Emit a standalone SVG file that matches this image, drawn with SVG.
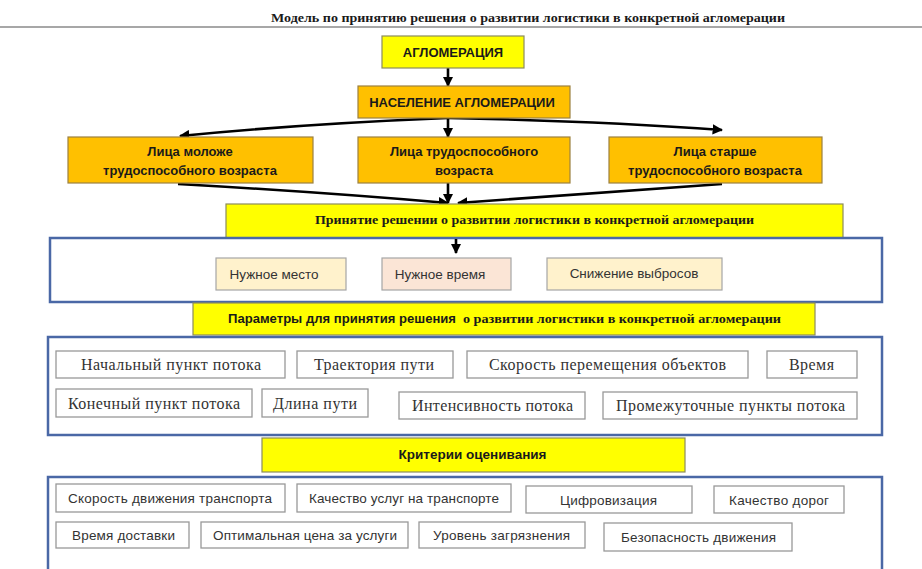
<svg xmlns="http://www.w3.org/2000/svg" width="922" height="569" viewBox="0 0 922 569">
<style>
.bg{fill:#ffffff}
.yel{fill:#ffff00;stroke:#8c8c5c;stroke-width:1.2}
.org{fill:#ffc000;stroke:#9c8040;stroke-width:1.2}
.blue{fill:#ffffff;stroke:#4a68a6;stroke-width:2.5}
.cream{fill:#fff2cc;stroke:#a6a6a6;stroke-width:1.2}
.pink{fill:#fbe5d6;stroke:#a6a6a6;stroke-width:1.2}
.wbox{fill:#ffffff;stroke:#999999;stroke-width:1.3}
.hs{font-family:"Liberation Sans",Arial,sans-serif;font-weight:bold;fill:#1a1a1a;text-anchor:middle}
.hserif{font-family:"Liberation Serif","Times New Roman",serif;font-weight:bold;fill:#1a1a1a}
.ser{font-family:"Liberation Serif","Times New Roman",serif;font-size:16px;fill:#333333;text-anchor:middle}
.sans{font-family:"Liberation Sans",Arial,sans-serif;font-size:13.5px;fill:#333333;text-anchor:middle}
.conn{fill:none;stroke:#000000;stroke-width:2.6}
</style>
<defs>
<marker id="ah" viewBox="0 0 10 10" refX="9" refY="5" markerWidth="4" markerHeight="4" orient="auto" markerUnits="strokeWidth">
<path d="M0,0 L10,5 L0,10 z" fill="#000000"/>
</marker>
</defs>
<rect class="bg" x="0" y="0" width="922" height="569"/>

<g id="title">
<text class="hserif" x="271" y="22" font-size="13" textLength="514" lengthAdjust="spacingAndGlyphs">Модель по принятию  решения о развитии логистики в конкретной агломерации</text>
<line x1="0" y1="27" x2="922" y2="27" stroke="#8a8a8a" stroke-width="1.3"/>
</g>

<g id="connectors">
<line class="conn" x1="448" y1="68" x2="448" y2="86" marker-end="url(#ah)"/>
<path class="conn" d="M448,118 Q300,124 180,136" marker-end="url(#ah)"/>
<line class="conn" x1="448" y1="118" x2="448" y2="137" marker-end="url(#ah)"/>
<path class="conn" d="M448,118 Q600,121 722,130" marker-end="url(#ah)"/>
<path class="conn" d="M178,184 Q320,192 448,203" marker-end="url(#ah)"/>
<line class="conn" x1="448" y1="183" x2="448" y2="203" marker-end="url(#ah)"/>
<path class="conn" d="M722,184 Q590,194 458,203" marker-end="url(#ah)"/>
</g>

<g id="agglomeration">
<rect class="yel" x="382" y="36" width="142" height="32"/>
<text class="hs" x="453" y="57" font-size="13">АГЛОМЕРАЦИЯ</text>
</g>

<g id="population">
<rect class="org" x="358" y="86" width="212" height="32"/>
<text class="hs" x="462" y="107" font-size="13">НАСЕЛЕНИЕ АГЛОМЕРАЦИИ</text>
</g>

<g id="younger">
<rect class="org" x="68" y="137" width="245" height="46"/>
<text class="hs" x="190" y="156" font-size="13">Лица моложе</text>
<text class="hs" x="190" y="175" font-size="13">трудоспособного возраста</text>
</g>

<g id="working">
<rect class="org" x="358" y="137" width="212" height="46"/>
<text class="hs" x="464" y="156" font-size="13">Лица трудоспособного</text>
<text class="hs" x="464" y="175" font-size="13">возраста</text>
</g>

<g id="older">
<rect class="org" x="609" y="137" width="213" height="46"/>
<text class="hs" x="715" y="156" font-size="13">Лица старше</text>
<text class="hs" x="715" y="175" font-size="13">трудоспособного возраста</text>
</g>

<g id="decision">
<rect class="yel" x="226" y="204" width="617" height="34"/>
<text class="hserif" x="315" y="224" font-size="13.5" textLength="439" lengthAdjust="spacingAndGlyphs">Принятие решении о развитии логистики в конкретной агломерации</text>
</g>

<g id="goals">
<rect class="blue" x="50" y="238" width="832" height="64"/>
<line class="conn" x1="456" y1="239" x2="456" y2="253" marker-end="url(#ah)"/>
</g>

<g id="place">
<rect class="cream" x="216" y="258" width="130" height="32"/>
<text class="sans" x="274" y="279" font-size="15">Нужное место</text>
</g>
<g id="time-need">
<rect class="pink" x="382" y="258" width="129" height="32"/>
<text class="sans" x="440" y="279" font-size="15">Нужное время</text>
</g>
<g id="emissions">
<rect class="cream" x="547" y="258" width="175" height="32"/>
<text class="sans" x="634" y="278" font-size="15.5">Снижение выбросов</text>
</g>

<g id="params-header">
<rect class="yel" x="193" y="303" width="622" height="32"/>
<text class="hs" x="228" y="323" font-size="13" style="text-anchor:start" textLength="228" lengthAdjust="spacingAndGlyphs">Параметры для принятия решения</text>
<text class="hserif" x="463" y="323" font-size="13" textLength="318" lengthAdjust="spacingAndGlyphs">о развитии логистики в конкретной агломерации</text>
</g>

<g id="params">
<rect class="blue" x="48" y="337" width="834" height="98"/>
</g>
<g id="p-start"><rect class="wbox" x="56" y="351" width="229" height="27"/><text class="ser" x="171" y="370" textLength="180">Начальный пункт потока</text></g>
<g id="p-traj"><rect class="wbox" x="297" y="351" width="156" height="27"/><text class="ser" x="374" y="370" textLength="120">Траектория пути</text></g>
<g id="p-speed"><rect class="wbox" x="467" y="351" width="281" height="27"/><text class="ser" x="607.5" y="370" textLength="237">Скорость перемещения объектов</text></g>
<g id="p-time"><rect class="wbox" x="767" y="351" width="90" height="27"/><text class="ser" x="811.5" y="370" textLength="45">Время</text></g>
<g id="p-end"><rect class="wbox" x="56" y="389" width="196" height="28"/><text class="ser" x="154" y="409" textLength="172">Конечный пункт потока</text></g>
<g id="p-len"><rect class="wbox" x="262" y="389" width="106" height="28"/><text class="ser" x="315" y="409" textLength="84">Длина пути</text></g>
<g id="p-int"><rect class="wbox" x="399" y="392" width="186" height="27"/><text class="ser" x="492.5" y="411" textLength="161">Интенсивность потока</text></g>
<g id="p-mid"><rect class="wbox" x="603" y="392" width="254" height="27"/><text class="ser" x="730.5" y="411" textLength="229">Промежуточные пункты потока</text></g>

<g id="criteria-header">
<rect class="yel" x="262" y="438" width="423" height="34"/>
<text class="hs" x="472.5" y="459" font-size="13.5">Критерии оценивания</text>
</g>

<g id="criteria">
<path class="blue" d="M48,571 V477 H882 V571"/>
</g>
<g id="c-speed"><rect class="wbox" x="56" y="484" width="229" height="28"/><text class="sans" x="170" y="503" textLength="204">Скорость движения транспорта</text></g>
<g id="c-quality"><rect class="wbox" x="297" y="484" width="214" height="28"/><text class="sans" x="404" y="503" textLength="190">Качество услуг на транспорте</text></g>
<g id="c-digital"><rect class="wbox" x="526" y="486" width="166" height="27"/><text class="sans" x="608.5" y="505" textLength="97">Цифровизация</text></g>
<g id="c-roads"><rect class="wbox" x="714" y="486" width="130" height="27"/><text class="sans" x="779" y="505" textLength="100">Качество дорог</text></g>
<g id="c-delivery"><rect class="wbox" x="56" y="522" width="133" height="26"/><text class="sans" x="123.5" y="540" textLength="103">Время доставки</text></g>
<g id="c-price"><rect class="wbox" x="201" y="522" width="207" height="26"/><text class="sans" x="305" y="540" textLength="184">Оптимальная цена за услуги</text></g>
<g id="c-pollution"><rect class="wbox" x="419" y="522" width="166" height="26"/><text class="sans" x="501.5" y="540" textLength="137">Уровень загрязнения</text></g>
<g id="c-safety"><rect class="wbox" x="604" y="523" width="188" height="28"/><text class="sans" x="698.5" y="542" textLength="155">Безопасность движения</text></g>
</svg>
